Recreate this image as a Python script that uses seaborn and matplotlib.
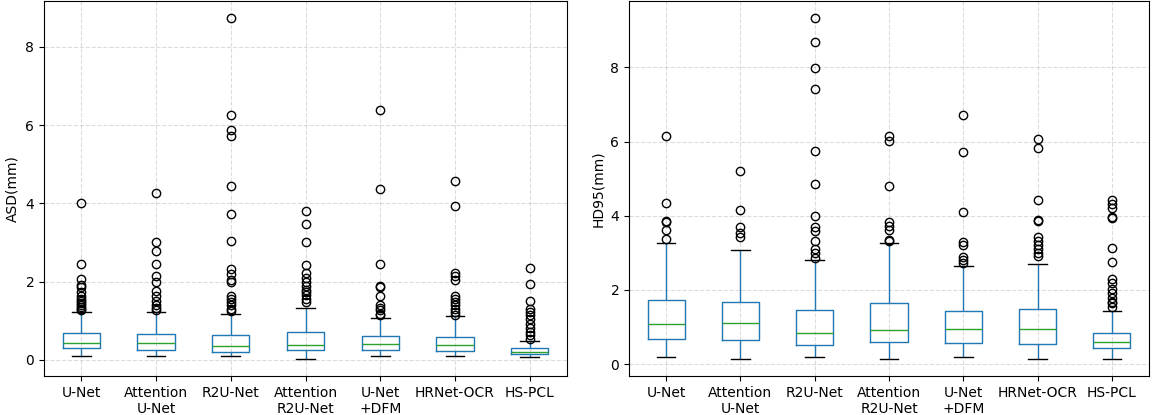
import pandas as pd
import seaborn as sns
import matplotlib
matplotlib.use("Agg")
import matplotlib.pyplot as plt

models = ["U-Net", "Attention\nU-Net", "R2U-Net", "Attention\nR2U-Net",
          "U-Net\n+DFM", "HRNet-OCR", "HS-PCL"]

# ASD(mm) box statistics
asd_low = [0.085, 0.085, 0.085, 0.02, 0.085, 0.085, 0.07]
asd_q1 = [0.30, 0.26, 0.21, 0.26, 0.25, 0.22, 0.15]
asd_median = [0.42, 0.42, 0.35, 0.38, 0.41, 0.38, 0.21]
asd_q3 = [0.68, 0.66, 0.62, 0.70, 0.60, 0.59, 0.29]
asd_high = [1.21, 1.21, 1.17, 1.33, 1.08, 1.12, 0.47]
asd_fliers = [
    [4.02, 2.44, 2.07, 1.90, 1.86, 1.72, 1.62, 1.55, 1.50, 1.45, 1.40, 1.35, 1.30, 1.26],
    [4.27, 3.00, 2.79, 2.44, 2.14, 1.99, 1.75, 1.63, 1.50, 1.41, 1.33, 1.28],
    [8.74, 6.26, 5.87, 5.73, 4.45, 3.73, 3.03, 2.31, 2.20, 2.03, 1.99, 1.62, 1.55,
     1.48, 1.39, 1.29, 1.25],
    [3.80, 3.47, 3.00, 2.42, 2.22, 2.09, 1.99, 1.89, 1.79, 1.73, 1.65, 1.56, 1.48],
    [6.40, 4.38, 2.46, 1.88, 1.85, 1.62, 1.39, 1.33, 1.26, 1.18, 1.14],
    [4.57, 3.94, 2.22, 2.15, 2.03, 1.64, 1.56, 1.48, 1.39, 1.31, 1.22, 1.15],
    [2.35, 1.94, 1.49, 1.31, 1.22, 1.14, 1.03, 0.92, 0.82, 0.71, 0.62, 0.54],
]

# HD95(mm) box statistics
hd_low = [0.20, 0.14, 0.20, 0.14, 0.20, 0.14, 0.14]
hd_q1 = [0.69, 0.64, 0.52, 0.59, 0.58, 0.53, 0.44]
hd_median = [1.07, 1.12, 0.85, 0.91, 0.94, 0.94, 0.59]
hd_q3 = [1.72, 1.67, 1.45, 1.66, 1.42, 1.48, 0.85]
hd_high = [3.26, 3.07, 2.80, 3.26, 2.65, 2.69, 1.43]
hd_fliers = [
    [6.15, 4.35, 3.86, 3.82, 3.62, 3.37],
    [5.21, 4.15, 3.71, 3.53, 3.42],
    [9.33, 8.69, 7.99, 7.43, 5.75, 4.86, 4.00, 3.71, 3.60, 3.33, 3.10, 3.00, 2.87],
    [6.15, 6.01, 4.80, 3.82, 3.73, 3.62, 3.35, 3.32],
    [6.71, 5.71, 4.10, 3.30, 3.20, 2.90, 2.81, 2.73],
    [6.08, 5.82, 4.42, 3.89, 3.85, 3.42, 3.33, 3.21, 3.10, 2.99, 2.92],
    [4.43, 4.32, 4.20, 3.96, 3.93, 3.13, 2.76, 2.29, 2.18, 2.02, 1.93, 1.77, 1.68,
     1.64, 1.55],
]


def sample_from_stats(lo, q1, med, q3, hi, fliers):
    # sample whose quartiles / whiskers / fliers reproduce the read statistics
    k = len(fliers) + 1
    return [lo] + [q1] * k + [med] * k + [q3] * k + [hi] + list(fliers)


def long_frame(low, q1, median, q3, high, fliers, name):
    rows = []
    for i, m in enumerate(models):
        for v in sample_from_stats(low[i], q1[i], median[i], q3[i], high[i], fliers[i]):
            rows.append({"model": m, name: v})
    return pd.DataFrame(rows)


df_asd = long_frame(asd_low, asd_q1, asd_median, asd_q3, asd_high, asd_fliers, "ASD")
df_hd = long_frame(hd_low, hd_q1, hd_median, hd_q3, hd_high, hd_fliers, "HD95")

fig, axes = plt.subplots(1, 2, figsize=(11.53, 4.15), dpi=100)
W, H = 1153.0, 415.0
axes[0].set_position([44 / W, 1 - 376 / H, 523 / W, 375 / H])
axes[1].set_position([629 / W, 1 - 376 / H, 520 / W, 375 / H])

box_kws = dict(
    order=models, width=0.5, fill=False, color="#1f77b4", linecolor="#1f77b4",
    saturation=1, linewidth=1.0,
    medianprops={"color": "#2ca02c", "linewidth": 1.0},
    capprops={"color": "black", "linewidth": 1.0},
    whiskerprops={"color": "#1f77b4", "linewidth": 1.0},
    flierprops={"marker": "o", "markersize": 6, "markerfacecolor": "none",
                "markeredgecolor": "black", "markeredgewidth": 1.0},
)

for ax, df, col, label in [(axes[0], df_asd, "ASD", "ASD(mm)"),
                           (axes[1], df_hd, "HD95", "HD95(mm)")]:
    sns.boxplot(data=df, x="model", y=col, ax=ax, **box_kws)
    ax.set_xlabel("")
    ax.set_ylabel(label)
    ax.set_yticks([0, 2, 4, 6, 8])
    ax.grid(True, linestyle="--", color="#b0b0b0", alpha=0.45, linewidth=0.8)
    ax.set_axisbelow(True)
    for s in ax.spines.values():
        s.set_visible(True)
        s.set_color("black")

fig.savefig("out.png", dpi=100)
